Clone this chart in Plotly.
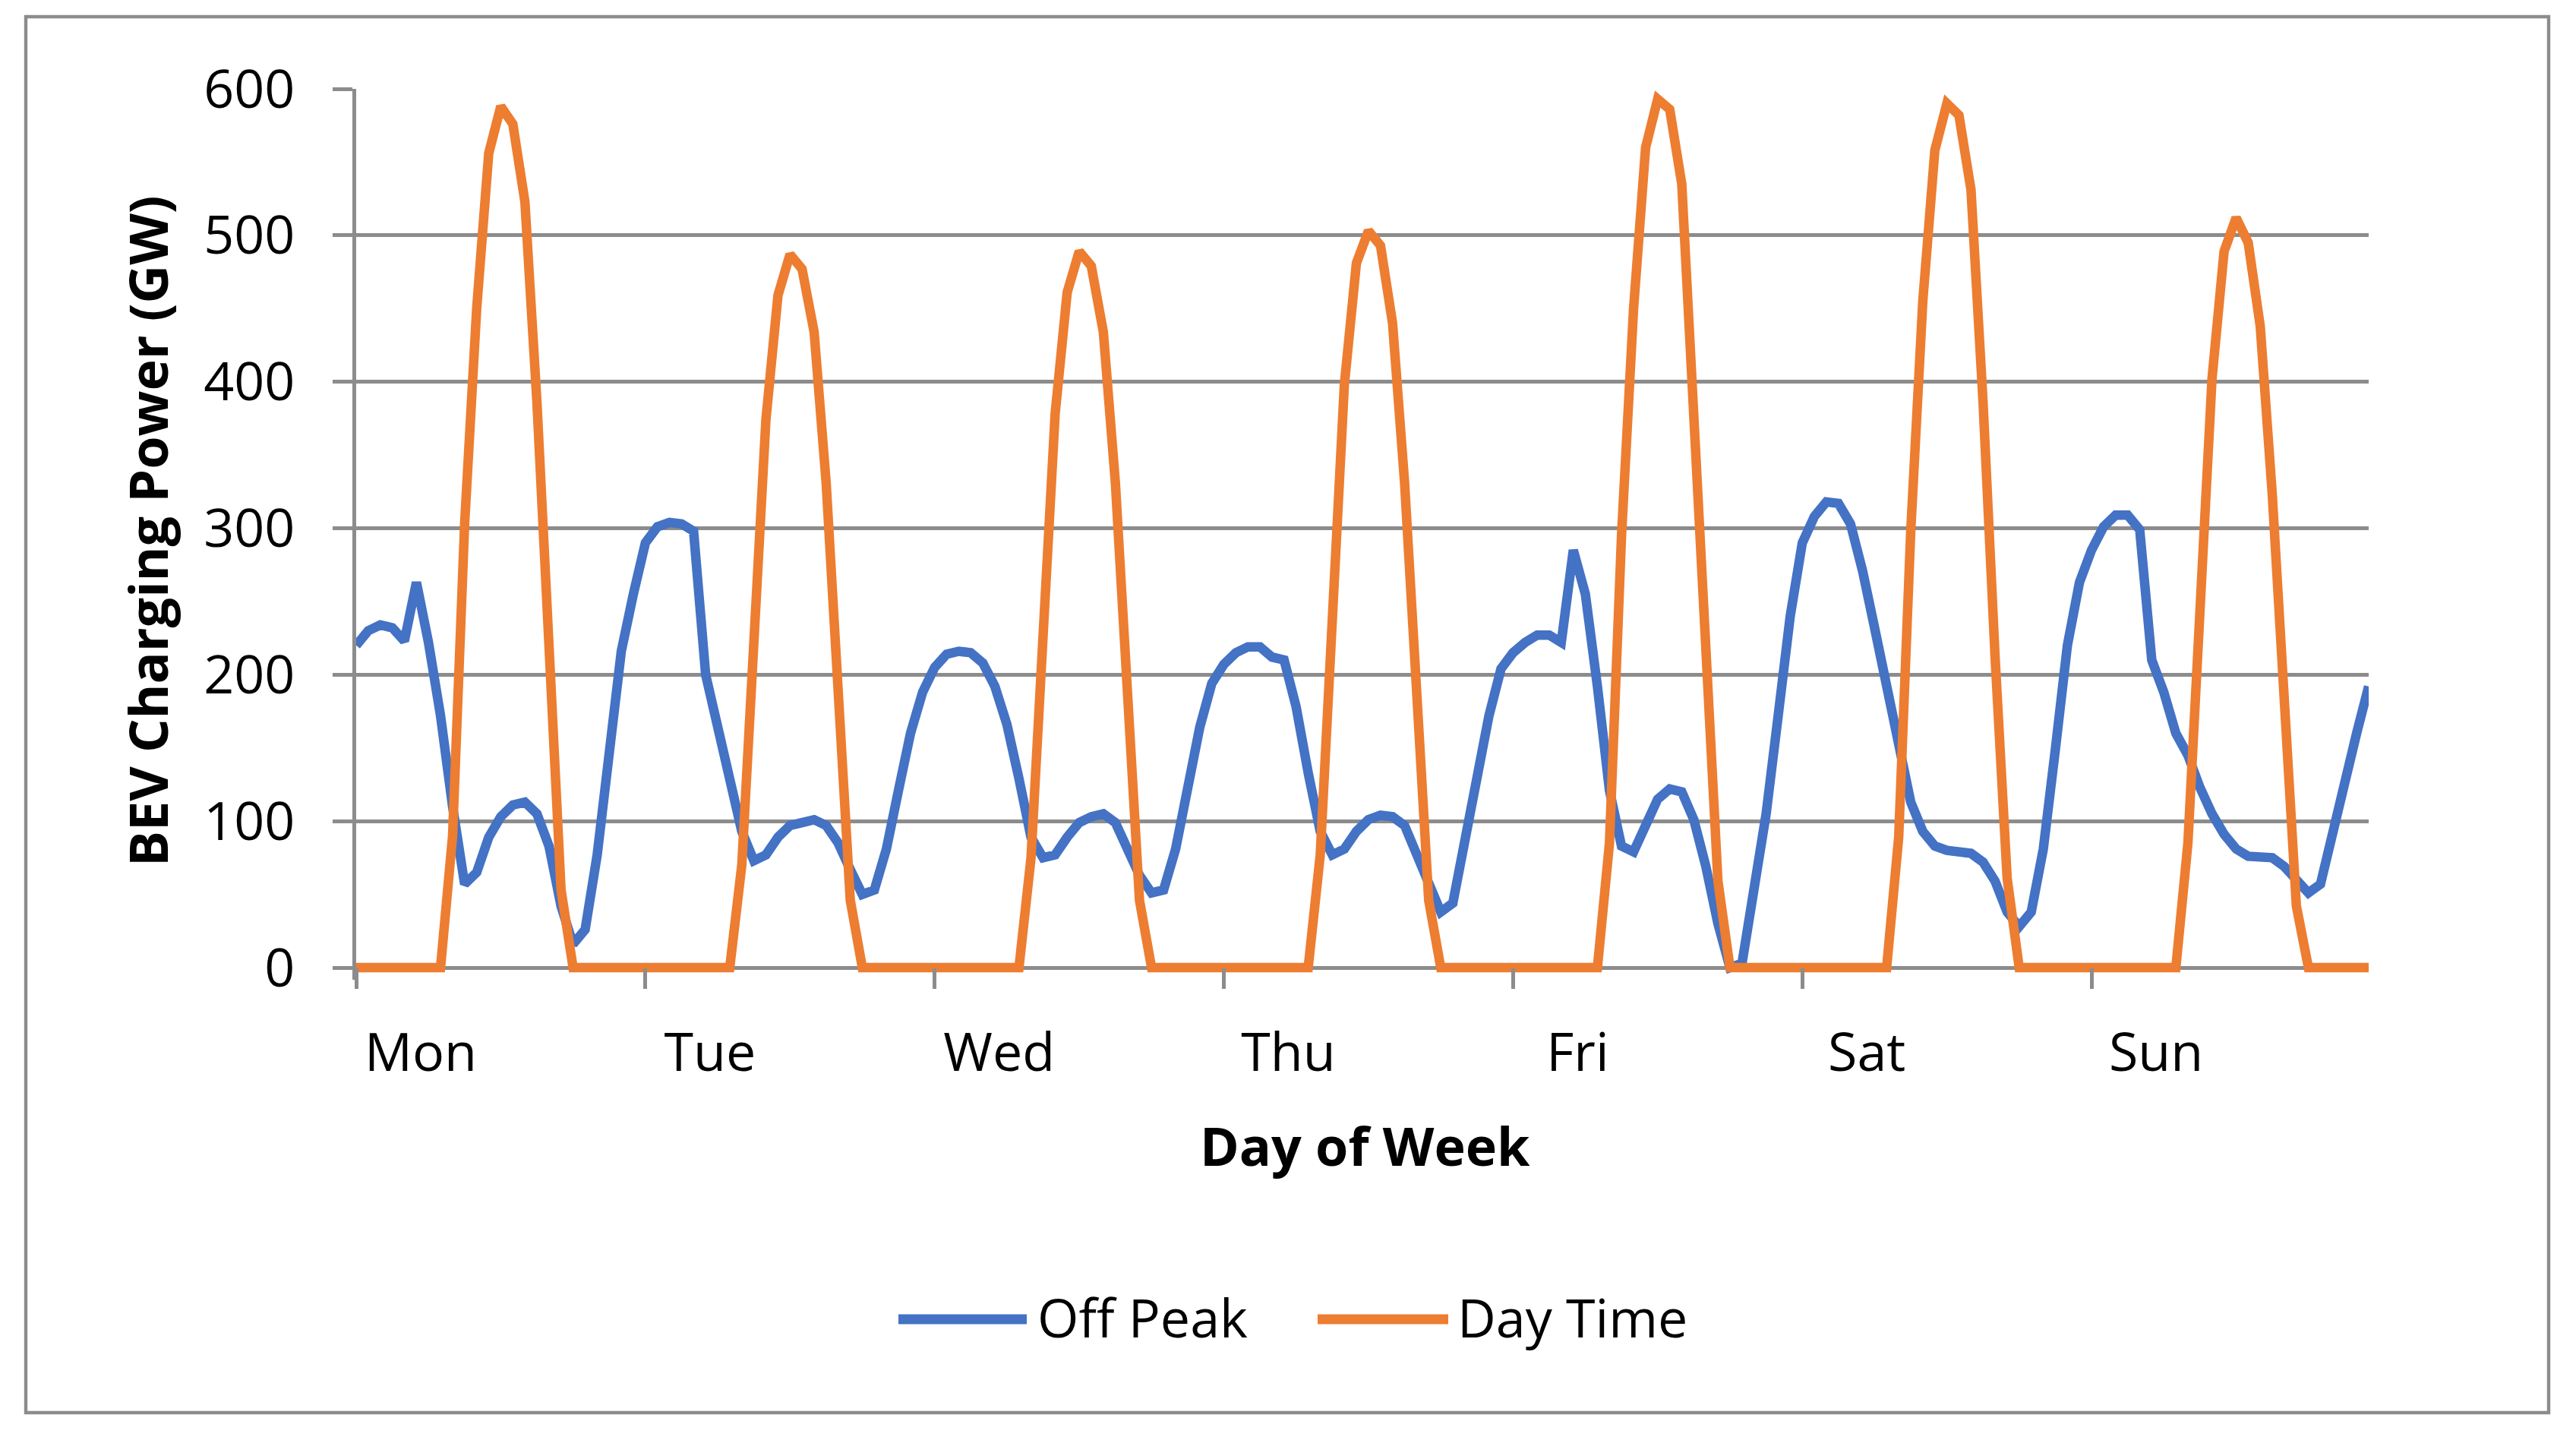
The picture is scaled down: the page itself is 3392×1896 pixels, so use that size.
import plotly.graph_objects as go

# ---------------- data ----------------
days = ["Mon", "Tue", "Wed", "Thu", "Fri", "Sat", "Sun"]
hours = list(range(168))          # hourly points over one week
day_ticks = [0, 24, 48, 72, 96, 120, 144]
y_ticks = [0, 100, 200, 300, 400, 500, 600]

off_peak = [
    220, 230, 234, 232, 223, 263, 222, 172, 110, 57, 65, 89, 103, 111, 113, 105, 83, 42, 16, 26, 77, 149, 216, 255,   # Mon
    290, 301, 304, 303, 298, 200, 166, 129, 93, 73, 77, 89, 97, 99, 101, 97, 85, 67, 50, 53, 81, 121, 160, 188,      # Tue
    205, 214, 216, 215, 208, 192, 166, 129, 89, 75, 77, 89, 99, 103, 105, 99, 81, 63, 51, 53, 81, 121, 164, 194,     # Wed
    207, 215, 219, 219, 212, 210, 178, 133, 93, 77, 81, 93, 101, 104, 103, 97, 77, 55, 38, 44, 85, 129, 172, 204,    # Thu
    215, 222, 227, 227, 222, 285, 255, 192, 121, 83, 79, 97, 115, 122, 120, 101, 69, 30, 0, 3, 52, 105, 172, 240,    # Fri
    290, 308, 318, 317, 303, 271, 232, 192, 152, 113, 93, 83, 80, 79, 78, 72, 59, 38, 28, 38, 81, 149, 220, 263,     # Sat
    285, 301, 309, 309, 299, 210, 188, 160, 145, 123, 105, 91, 81, 76, 76, 75, 69, 59, 51, 57, 93, 127, 160, 192,    # Sun
]

day_time = [
    0, 0, 0, 0, 0, 0, 0, 0, 90, 303, 450, 556, 588, 576, 523, 386, 220, 53, 0, 0, 0, 0, 0, 0,   # Mon
    0, 0, 0, 0, 0, 0, 0, 0, 70, 235, 374, 459, 487, 477, 434, 331, 200, 46, 0, 0, 0, 0, 0, 0,   # Tue
    0, 0, 0, 0, 0, 0, 0, 0, 75, 232, 378, 461, 489, 479, 434, 331, 196, 46, 0, 0, 0, 0, 0, 0,   # Wed
    0, 0, 0, 0, 0, 0, 0, 0, 77, 240, 398, 481, 503, 493, 440, 331, 192, 46, 0, 0, 0, 0, 0, 0,   # Thu
    0, 0, 0, 0, 0, 0, 0, 0, 85, 295, 450, 560, 593, 586, 535, 386, 212, 59, 0, 0, 0, 0, 0, 0,   # Fri
    0, 0, 0, 0, 0, 0, 0, 0, 89, 298, 455, 558, 590, 582, 531, 386, 212, 61, 0, 0, 0, 0, 0, 0,   # Sat
    0, 0, 0, 0, 0, 0, 0, 0, 85, 245, 402, 489, 512, 495, 438, 323, 188, 42, 0, 0, 0, 0, 0, 0,   # Sun
]

series_names = ["Off Peak", "Day Time"]
series_colors = ["#4472C4", "#ED7D31"]

# ---------------- layout geometry (pixels) ----------------
W, H = 3392, 1896
PL, PR = 469, 3119          # plot left / right
PT = 117                    # y = 600
Y0 = 1274                   # y = 0
PB = 1290                   # plot-area bottom (a little below 0 so the 0-line is not clipped)
Y_MAX = 600
Y_MIN = -(PB - Y0) * Y_MAX / (Y0 - PT)

GRID = "#8C8C8C"
FONT = "Open Sans"
FS = 70


def px_x(x):
    return (x - PL) / (PR - PL)


def px_y(y):
    return (PB - y) / (PB - PT)


fig = go.Figure()
fig.add_trace(go.Scatter(x=hours, y=off_peak, mode="lines", name=series_names[0],
                         line=dict(color=series_colors[0], width=12.5), showlegend=False))
fig.add_trace(go.Scatter(x=hours, y=day_time, mode="lines", name=series_names[1],
                         line=dict(color=series_colors[1], width=12.5), showlegend=False))

annotations = [
    dict(text="<b>BEV Charging Power (GW)</b>", x=px_x(194), y=px_y(699), xref="paper", yref="paper",
         textangle=-90, showarrow=False, xanchor="center", yanchor="middle",
         font=dict(family=FONT, size=FS, color="black")),
    dict(text="<b>Day of Week</b>", x=px_x(1797), y=px_y(1508), xref="paper", yref="paper",
         showarrow=False, xanchor="center", yanchor="middle",
         font=dict(family=FONT, size=FS, color="black")),
]

# manual legend (long swatches like the original)
legend_items = [(series_names[0], series_colors[0], 1183, 1352, 1364),
                (series_names[1], series_colors[1], 1735, 1907, 1917)]
LEG_Y = 1737
shapes = []
for name, col, sx0, sx1, tx in legend_items:
    shapes.append(dict(type="line", xref="paper", yref="paper",
                       x0=px_x(sx0), x1=px_x(sx1), y0=px_y(LEG_Y), y1=px_y(LEG_Y),
                       line=dict(color=col, width=13)))
    annotations.append(dict(text=name, x=px_x(tx), y=px_y(LEG_Y - 3), xref="paper", yref="paper",
                            showarrow=False, xanchor="left", yanchor="middle",
                            font=dict(family=FONT, size=FS, color="black")))

# outer chart border
shapes.append(dict(type="rect", xref="paper", yref="paper",
                   x0=px_x(34), x1=px_x(3356), y0=px_y(1860), y1=px_y(22),
                   line=dict(color=GRID, width=4.4), layer="below"))

fig.update_layout(
    width=W, height=H,
    margin=dict(l=PL, r=W - PR, t=PT, b=H - PB, pad=0),
    paper_bgcolor="white", plot_bgcolor="white",
    font=dict(family=FONT, size=FS, color="black"),
    xaxis=dict(range=[0, 167], anchor="free", position=px_y(Y0),
               tickmode="array", tickvals=day_ticks, ticktext=days,
               ticks="outside", ticklen=27, tickwidth=4.5, tickcolor=GRID,
               ticklabelshift=85, ticklabelstandoff=24,
               showgrid=False, zeroline=False, showline=False,
               tickfont=dict(family=FONT, size=FS, color="black")),
    yaxis=dict(range=[Y_MIN, Y_MAX], tickmode="array", tickvals=y_ticks,
               ticks="outside", ticklen=26, tickwidth=4.5, tickcolor=GRID,
               ticklabelstandoff=36,
               showgrid=True, gridcolor=GRID, gridwidth=4.5,
               zeroline=False, showline=True, linecolor=GRID, linewidth=4.5,
               tickfont=dict(family=FONT, size=FS, color="black")),
    annotations=annotations,
    shapes=shapes,
)

fig.write_html("out.html",
               config={"displayModeBar": False},
               post_script="document.body.style.margin='0';document.body.style.padding='0';")
